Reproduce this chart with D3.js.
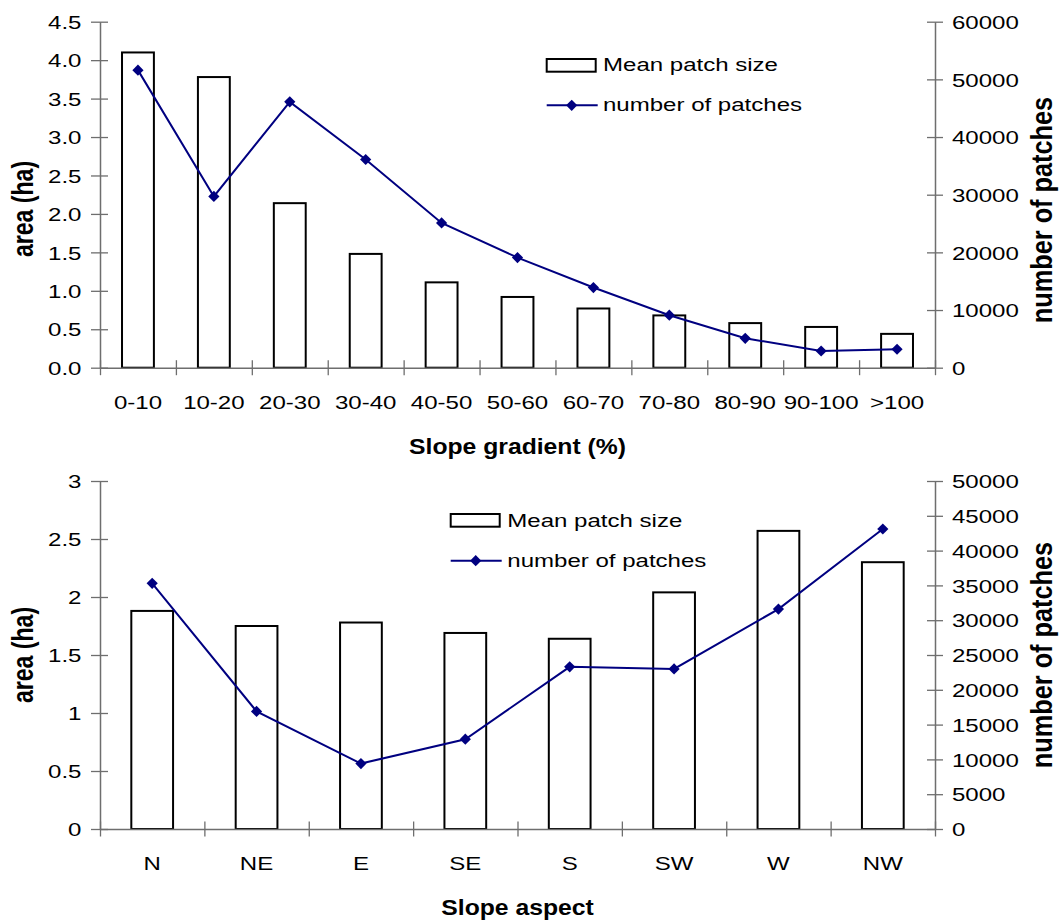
<!DOCTYPE html>
<html>
<head>
<meta charset="utf-8">
<script src="https://cdn.jsdelivr.net/npm/d3@7"></script>
<style>
  html, body { margin: 0; padding: 0; background: #fff; }
  svg { display: block; }
  text { font-family: "Liberation Sans", Arial, sans-serif; fill: #000; }
</style>
</head>
<body>
<svg id="chart" width="1059" height="921"></svg>
<script>
// ---------- DATA ----------
const slopeCategories = ["0-10","10-20","20-30","30-40","40-50","50-60","60-70","70-80","80-90","90-100",">100"];
const slopeMeanPatchSize = [4.10,3.78,2.14,1.48,1.11,0.92,0.77,0.68,0.58,0.53,0.44];
const slopeNumPatches = [51600,29700,46100,36100,25100,19100,13900,9100,5100,2900,3200];
const slopeAreaTicks = [0,0.5,1.0,1.5,2.0,2.5,3.0,3.5,4.0,4.5];
const slopeCountTicks = [0,10000,20000,30000,40000,50000,60000];

const aspectCategories = ["N","NE","E","SE","S","SW","W","NW"];
const aspectMeanPatchSize = [1.88,1.75,1.78,1.69,1.64,2.04,2.57,2.30];
const aspectNumPatches = [35300,16900,9400,12900,23300,23000,31600,43100];
const aspectAreaTicks = [0,0.5,1,1.5,2,2.5,3];
const aspectCountTicks = [0,5000,10000,15000,20000,25000,30000,35000,40000,45000,50000];

const legendLabels = ["Mean patch size","number of patches"];
const leftTitle = "area (ha)";
const rightTitle = "number of patches";

// ---------- STYLE ----------
const SX = 1.3;          // horizontal stretch of the reference text
const FS = 18.5;         // regular text size
const AXIS_COLOR = "#6e6e6e";
const LINE_COLOR = "#000080";

const svg = d3.select("#chart");

function stretchText(sel, sx) {
  sel.each(function() {
    const t = d3.select(this);
    const x = +t.attr("x") || 0;
    const y = +t.attr("y") || 0;
    t.attr("x", 0).attr("y", 0)
     .attr("transform", `translate(${x},${y}) scale(${sx},1)`);
  });
}

function drawChart(cfg) {
  const g = svg.append("g");
  const n = cfg.cats.length;
  const x = d3.scaleBand().domain(cfg.cats).range([cfg.left, cfg.right]).padding(0);
  const xb = d3.scaleLinear().domain([0, n]).range([cfg.left, cfg.right]);
  const yA = d3.scaleLinear().domain([0, cfg.areaMax]).range([cfg.bottom, cfg.top]);
  const yC = d3.scaleLinear().domain([0, cfg.countMax]).range([cfg.bottom, cfg.top]);

  // bars
  const bw = x.step() * cfg.barRatio;
  g.append("g").selectAll("rect").data(cfg.bars).join("rect")
    .attr("x", (d, i) => x(cfg.cats[i]) + x.bandwidth() / 2 - bw / 2)
    .attr("y", d => yA(d))
    .attr("width", bw)
    .attr("height", d => yA(0) - yA(d))
    .attr("fill", "#fff")
    .attr("stroke", "#000")
    .attr("stroke-width", 2);

  // left axis
  const la = g.append("g").attr("transform", `translate(${cfg.left},0)`)
    .call(d3.axisLeft(yA).tickValues(cfg.areaTicks).tickFormat(cfg.areaFmt).tickSize(9).tickSizeOuter(0).tickPadding(0));
  la.select(".domain").attr("stroke", AXIS_COLOR).attr("stroke-width", 1.5);
  la.selectAll(".tick line").attr("x1", 8).attr("stroke", AXIS_COLOR).attr("stroke-width", 1.3);
  la.selectAll(".tick text").attr("x", -18.5).attr("dy", "0.36em")
    .attr("font-size", FS).attr("font-family", "Liberation Sans, Arial, sans-serif").attr("fill", "#000");
  stretchText(la.selectAll(".tick text"), SX);

  // right axis
  const ra = g.append("g").attr("transform", `translate(${cfg.right},0)`)
    .call(d3.axisRight(yC).tickValues(cfg.countTicks).tickFormat(d3.format("d")).tickSize(8).tickSizeOuter(0).tickPadding(0));
  ra.select(".domain").attr("stroke", AXIS_COLOR).attr("stroke-width", 1.5);
  ra.selectAll(".tick line").attr("x1", -8).attr("stroke", AXIS_COLOR).attr("stroke-width", 1.3);
  ra.selectAll(".tick text").attr("x", 17).attr("dy", "0.36em")
    .attr("font-size", FS).attr("font-family", "Liberation Sans, Arial, sans-serif").attr("fill", "#000");
  stretchText(ra.selectAll(".tick text"), SX);

  // bottom axis: boundary ticks
  const ba = g.append("g").attr("transform", `translate(0,${cfg.bottom})`)
    .call(d3.axisBottom(xb).tickValues(d3.range(n + 1)).tickFormat("").tickSize(7.5).tickSizeOuter(0));
  ba.select(".domain").attr("stroke", AXIS_COLOR).attr("stroke-width", 1.5);
  ba.selectAll(".tick line").attr("y1", -7.5).attr("stroke", AXIS_COLOR).attr("stroke-width", 1.3);

  // bottom axis: category labels
  const bl = g.append("g").attr("transform", `translate(0,${cfg.bottom})`)
    .call(d3.axisBottom(x).tickSize(0).tickSizeOuter(0));
  bl.select(".domain").remove();
  bl.selectAll(".tick text").attr("y", cfg.catLabelOffset).attr("dy", 0)
    .attr("font-size", FS).attr("font-family", "Liberation Sans, Arial, sans-serif").attr("fill", "#000");
  stretchText(bl.selectAll(".tick text"), SX);

  // line + markers
  const line = d3.line().x((d, i) => x(cfg.cats[i]) + x.bandwidth() / 2).y(d => yC(d));
  g.append("path").datum(cfg.line).attr("d", line)
    .attr("fill", "none").attr("stroke", LINE_COLOR).attr("stroke-width", 2);
  const diamond = d3.symbol().type(d3.symbolDiamond2).size(80);
  g.append("g").selectAll("path").data(cfg.line).join("path")
    .attr("d", diamond)
    .attr("transform", (d, i) => `translate(${x(cfg.cats[i]) + x.bandwidth() / 2},${yC(d)})`)
    .attr("fill", LINE_COLOR);

  // axis titles
  g.append("text").text(cfg.xTitle)
    .attr("text-anchor", "middle").attr("font-weight", "bold").attr("font-size", 21.5)
    .attr("transform", `translate(${(cfg.left + cfg.right) / 2},${cfg.xTitleY}) scale(1.15,1)`);
  g.append("text").text(leftTitle)
    .attr("text-anchor", "middle").attr("font-weight", "bold").attr("font-size", 22)
    .attr("transform", `translate(32.5,${cfg.leftTitleCY}) rotate(-90) scale(1.05,${SX})`);
  g.append("text").text(rightTitle)
    .attr("text-anchor", "middle").attr("font-weight", "bold").attr("font-size", 22)
    .attr("transform", `translate(1051.5,${cfg.rightTitleCY}) rotate(-90) scale(1.15,${SX})`);

  // legend
  const L = cfg.legend;
  const lg = g.append("g");
  lg.append("rect").attr("x", L.boxX).attr("y", L.boxY).attr("width", 49).attr("height", 12.7)
    .attr("fill", "#fff").attr("stroke", "#000").attr("stroke-width", 2);
  lg.append("text").text(legendLabels[0]).attr("font-size", FS)
    .attr("transform", `translate(${L.textX},${L.row1Base}) scale(${SX},1)`);
  lg.append("line").attr("x1", L.boxX).attr("x2", L.boxX + 51).attr("y1", L.lineY).attr("y2", L.lineY)
    .attr("stroke", LINE_COLOR).attr("stroke-width", 2);
  lg.append("path").attr("d", diamond)
    .attr("transform", `translate(${L.boxX + 25},${L.lineY})`).attr("fill", LINE_COLOR);
  lg.append("text").text(legendLabels[1]).attr("font-size", FS)
    .attr("transform", `translate(${L.textX},${L.row2Base}) scale(${SX},1)`);
}

drawChart({
  top: 21.7, bottom: 367.7, left: 100, right: 935,
  cats: slopeCategories, bars: slopeMeanPatchSize, line: slopeNumPatches,
  areaMax: 4.5, areaTicks: slopeAreaTicks, areaFmt: d3.format(".1f"),
  countMax: 60000, countTicks: slopeCountTicks,
  barRatio: 0.42, catLabelOffset: 41.3,
  xTitle: "Slope gradient (%)", xTitleY: 453.7,
  leftTitleCY: 209, rightTitleCY: 210,
  legend: { boxX: 546.7, boxY: 59, textX: 603, row1Base: 71, lineY: 105.3, row2Base: 111 }
});

drawChart({
  top: 481, bottom: 829, left: 100, right: 935,
  cats: aspectCategories, bars: aspectMeanPatchSize, line: aspectNumPatches,
  areaMax: 3, areaTicks: aspectAreaTicks, areaFmt: d3.format("~g"),
  countMax: 50000, countTicks: aspectCountTicks,
  barRatio: 0.40, catLabelOffset: 41.3,
  xTitle: "Slope aspect", xTitleY: 915,
  leftTitleCY: 655, rightTitleCY: 655,
  legend: { boxX: 450.7, boxY: 514, textX: 507.3, row1Base: 527, lineY: 560.7, row2Base: 566.7 }
});
</script>
</body>
</html>
